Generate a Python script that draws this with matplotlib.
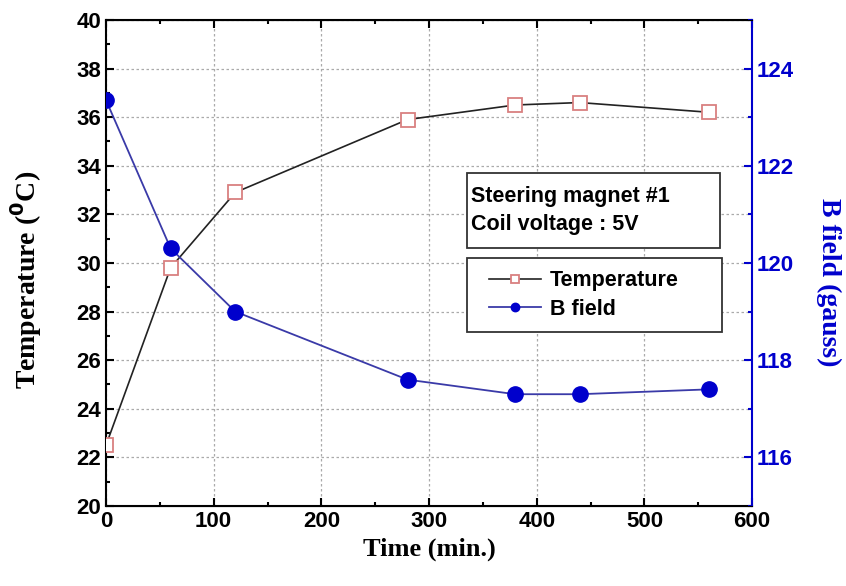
import matplotlib.pyplot as plt
from matplotlib.ticker import MultipleLocator
from matplotlib.patches import Rectangle

time_min = [0, 60, 120, 280, 380, 440, 560]
temperature = [22.5, 29.8, 32.9, 35.9, 36.5, 36.6, 36.2]
b_field = [123.35, 120.3, 119.0, 117.6, 117.3, 117.3, 117.4]

tick_font = 'Liberation Sans'
label_font = 'Liberation Serif'
blue = '#0000cc'

fig = plt.figure(figsize=(8.46, 5.86), dpi=100)
ax = fig.add_axes([0.1253, 0.1365, 0.7637, 0.8295])
ax2 = ax.twinx()

ax.plot(time_min, temperature, color='#222222', lw=1.2, marker='s', ms=10,
        mfc='white', mec='#d98080', mew=1.3, label='Temperature', zorder=3)
ax2.plot(time_min, b_field, color='#3a3aa8', lw=1.3, marker='o', ms=11,
         mfc=blue, mec=blue, label='B field', zorder=3)

ax.set_xlim(0, 600)
ax.set_ylim(20, 40)
ax2.set_ylim(115, 125)

ax.xaxis.set_major_locator(MultipleLocator(100))
ax.xaxis.set_minor_locator(MultipleLocator(50))
ax.yaxis.set_major_locator(MultipleLocator(2))
ax.yaxis.set_minor_locator(MultipleLocator(1))
ax2.set_yticks([116, 118, 120, 122, 124])
ax2.yaxis.set_minor_locator(MultipleLocator(1))

ax.grid(True, which='major', color='#aaaaaa', ls=(0, (2, 2)), lw=0.9)
ax.tick_params(axis='both', which='both', direction='in', top=True, right=False,
               width=1.5, labelsize=16)
ax.tick_params(which='major', length=6)
ax.tick_params(which='minor', length=3)
ax2.tick_params(axis='y', which='both', direction='in', colors=blue, width=1.5,
                labelsize=16)
ax2.tick_params(which='major', length=6)
ax2.tick_params(which='minor', length=3)

for lab in ax.get_xticklabels() + ax.get_yticklabels() + ax2.get_yticklabels():
    lab.set_fontfamily(tick_font)
    lab.set_fontweight('bold')

for s in ['left', 'bottom', 'top']:
    ax.spines[s].set_linewidth(1.5)
ax2.spines['right'].set_color(blue)
ax2.spines['right'].set_linewidth(1.5)
ax2.spines['left'].set_visible(False)
ax.spines['right'].set_visible(False)

ax.set_xlabel('Time (min.)', family=label_font, fontweight='bold', fontsize=19,
              labelpad=4)
ax.set_ylabel(r'Temperature ($^\mathbf{0}$C)', family=label_font, fontweight='bold',
              fontsize=20, va='center')
ax.yaxis.set_label_coords(-0.123, 0.465)
ax2.set_ylabel('B field (gauss)', family=label_font, fontweight='bold', fontsize=20,
               color=blue, rotation=270, va='center')
ax2.yaxis.set_label_coords(1.118, 0.46)

# 설명 박스
ax2.add_patch(Rectangle((0.559, 0.531), 0.391, 0.154, transform=ax.transAxes,
                        fc='white', ec='#333333', lw=1.3, zorder=5))
ax2.text(0.565, 0.608, 'Steering magnet #1\nCoil voltage : 5V', transform=ax.transAxes,
         family=tick_font, fontweight='bold', fontsize=15.5, linespacing=1.4,
         va='center', ha='left', zorder=6)

ax2.add_patch(Rectangle((0.559, 0.358), 0.394, 0.152, transform=ax.transAxes,
                        fc='white', ec='#333333', lw=1.3, zorder=5))
h1, l1 = ax.get_legend_handles_labels()
h2, l2 = ax2.get_legend_handles_labels()
leg = ax2.legend(h1 + h2, l1 + l2, loc='center left', bbox_to_anchor=(0.57, 0.434),
                 frameon=False, markerscale=0.55,
                 prop={'family': tick_font, 'weight': 'bold', 'size': 15.5},
                 handlelength=2.4, handletextpad=0.4, borderpad=0.2, labelspacing=0.35)
leg.set_zorder(7)

plt.savefig('out.png', dpi=100)
